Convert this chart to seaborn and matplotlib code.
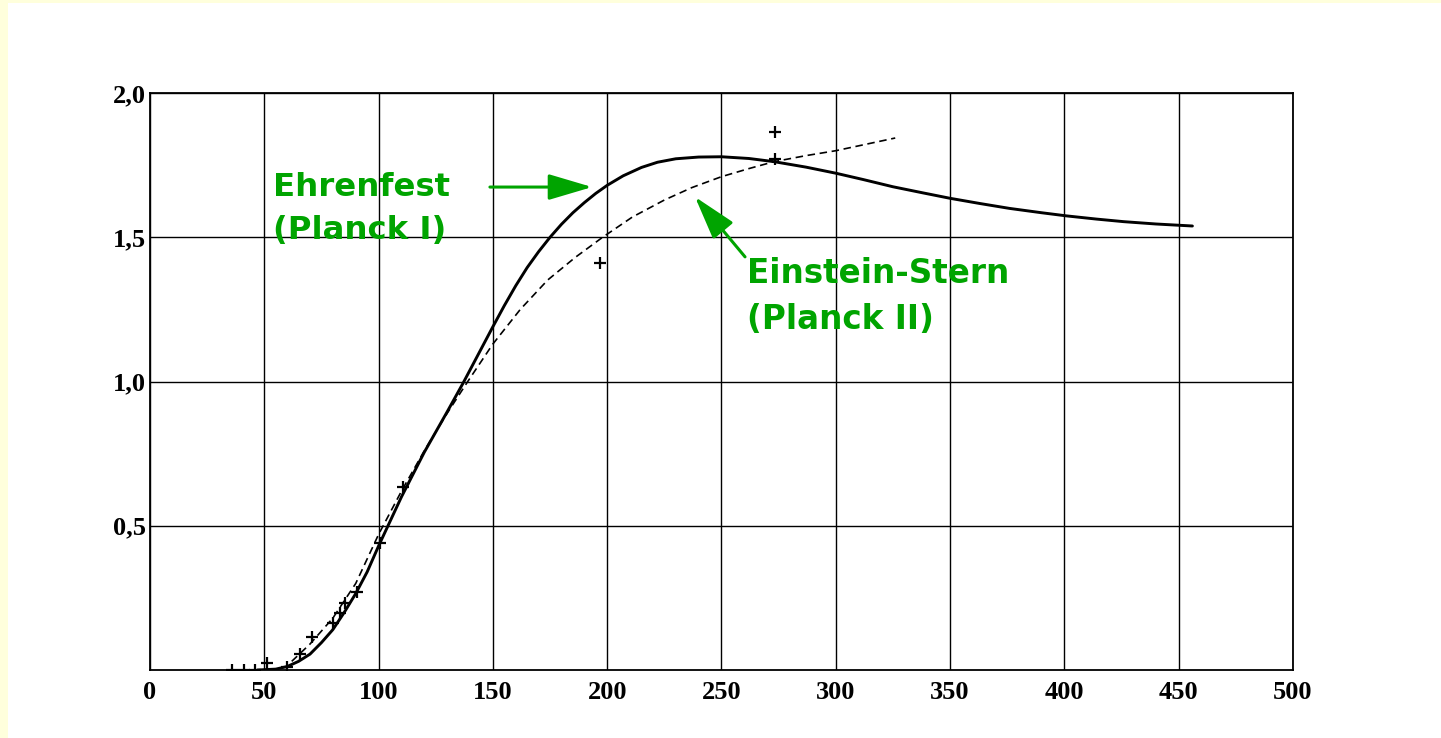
import matplotlib
matplotlib.use('Agg')
import matplotlib.pyplot as plt
from matplotlib.patches import Rectangle
import seaborn as sns

# Ehrenfest (Planck I) - solid curve
ehr_x = [47, 55, 60, 65, 70, 75, 80, 85, 90, 95, 100, 110, 120, 130, 137, 145, 150,
         155, 160, 165, 170, 175, 180, 185, 190, 195, 200, 207, 215, 222, 230, 240,
         250, 262, 273, 287, 300, 312, 325, 338, 350, 363, 376, 390, 401, 414, 426,
         440, 456]
ehr_y = [0.0, 0.003, 0.012, 0.03, 0.055, 0.095, 0.14, 0.2, 0.265, 0.34, 0.43, 0.6,
         0.755, 0.895, 0.995, 1.115, 1.19, 1.263, 1.332, 1.395, 1.45, 1.5, 1.545,
         1.585, 1.62, 1.652, 1.68, 1.713, 1.742, 1.76, 1.772, 1.778, 1.779, 1.773,
         1.762, 1.743, 1.722, 1.7, 1.675, 1.654, 1.635, 1.617, 1.6, 1.585, 1.574,
         1.563, 1.554, 1.546, 1.539]

# Einstein-Stern (Planck II) - dashed curve
es_x = [62, 70, 80, 90, 100, 110, 120, 130, 139, 150, 162, 174, 186, 198, 211, 225,
        237, 250, 262, 273, 287, 300, 313, 326]
es_y = [0.03, 0.09, 0.18, 0.3, 0.47, 0.62, 0.76, 0.89, 1.0, 1.13, 1.25, 1.352, 1.43,
        1.5, 1.57, 1.629, 1.672, 1.71, 1.738, 1.762, 1.783, 1.8, 1.822, 1.844]

# measured points (+)
pts_x = [36, 41, 46, 51, 60, 65.5, 71, 80, 83, 85.3, 90.5, 100.5, 110.5, 197, 273.5, 273.5]
pts_y = [0.0, 0.0, 0.0, 0.025, 0.01, 0.055, 0.115, 0.163, 0.197, 0.232, 0.27, 0.44,
         0.635, 1.41, 1.865, 1.77]

xticks = list(range(0, 501, 50))
yticks = [0.5, 1.0, 1.5, 2.0]
ytick_labels = ['0,5', '1,0', '1,5', '2,0']

green = '#00A400'

sns.set_theme(style='white')
plt.rcParams['font.family'] = ['DejaVu Sans']

fig = plt.figure(figsize=(14.41, 7.38), dpi=100, facecolor='#FFFFDC')
fig.patches.append(Rectangle((8 / 1441, 0), 1, 1 - 3 / 738, transform=fig.transFigure,
                             facecolor='white', edgecolor='none', zorder=-10))
ax = fig.add_axes([0.10409, 0.09214, 0.79320, 0.78184])
ax.set_facecolor('white')

sns.lineplot(x=ehr_x, y=ehr_y, ax=ax, color='black', lw=2.1, estimator=None, sort=False)
sns.lineplot(x=es_x, y=es_y, ax=ax, color='black', lw=1.2, estimator=None, sort=False,
             linestyle=(0, (4.5, 2.8)))
sns.scatterplot(x=pts_x, y=pts_y, ax=ax, marker='+', color='black', s=80, linewidth=1.6,
                zorder=5)

ax.set_xlim(0, 500)
ax.set_ylim(0, 2.0)
ax.set_xticks(xticks)
ax.set_xticklabels([str(v) for v in xticks])
ax.set_yticks(yticks)
ax.set_yticklabels(ytick_labels)
ax.grid(True, color='black', lw=1.0)
ax.set_axisbelow(True)
for s in ax.spines.values():
    s.set_visible(True)
    s.set_color('black')
    s.set_linewidth(1.3)
ax.tick_params(axis='both', length=0, labelsize=19, colors='black')
ax.tick_params(axis='x', pad=8)
ax.tick_params(axis='y', pad=3)
for lab in ax.get_xticklabels() + ax.get_yticklabels():
    lab.set_family('Liberation Serif')
    lab.set_fontweight('bold')

# annotations
ax.text(53.8, 1.726, 'Ehrenfest\n(Planck I)', color=green, fontsize=23.3,
        fontweight='bold', ha='left', va='top', linespacing=1.48)
ax.annotate('', xy=(193.4, 1.674), xytext=(148.7, 1.674),
            arrowprops=dict(arrowstyle='-|>,head_length=1.35,head_width=0.4',
                            mutation_scale=20, color=green, lw=2.2,
                            shrinkA=0, shrinkB=0))
ax.text(261.0, 1.432, 'Einstein-Stern\n(Planck II)', color=green, fontsize=23.5,
        fontweight='bold', ha='left', va='top', linespacing=1.5)
ax.annotate('', xy=(238.4, 1.64), xytext=(260.3, 1.432),
            arrowprops=dict(arrowstyle='-|>,head_length=1.35,head_width=0.4',
                            mutation_scale=20, color=green, lw=2.2,
                            shrinkA=0, shrinkB=0))

fig.savefig('out.png', dpi=100, facecolor=fig.get_facecolor())
